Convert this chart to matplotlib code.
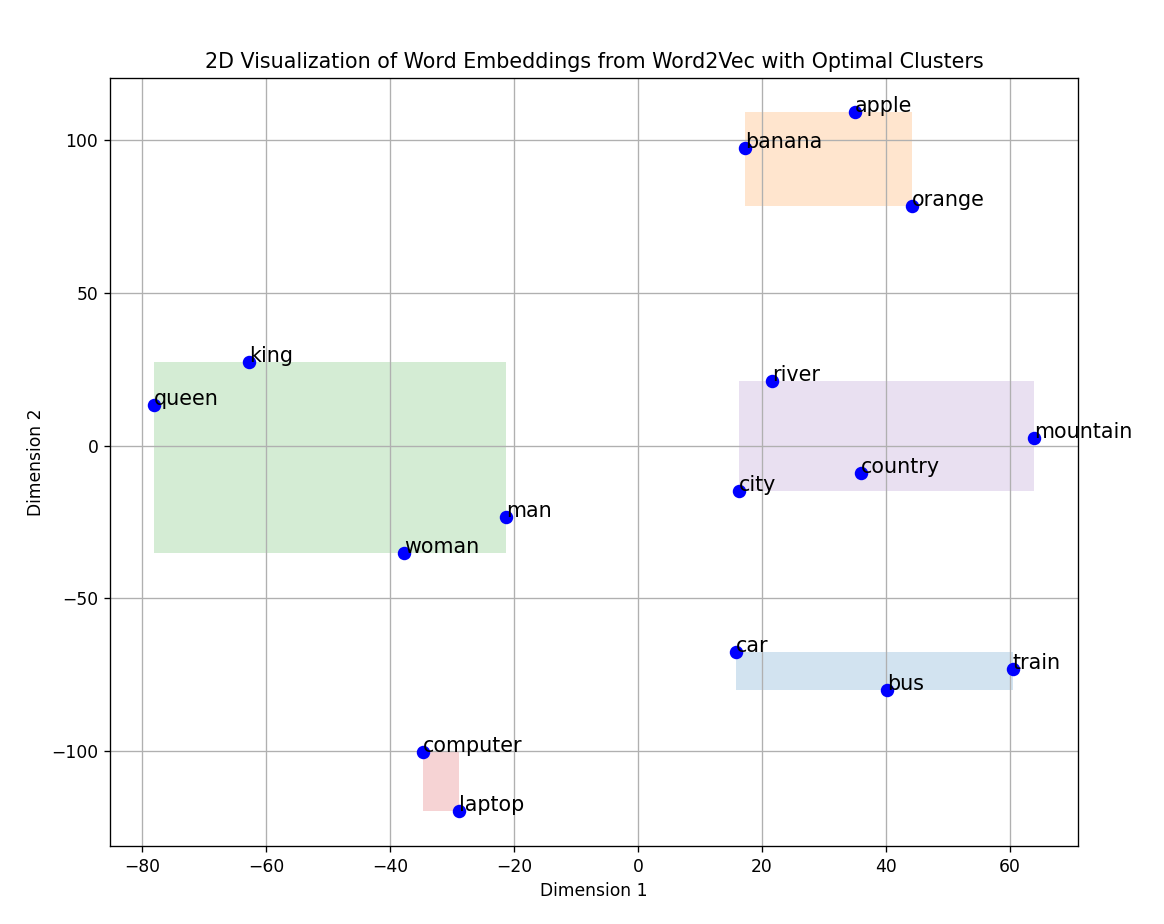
import matplotlib
matplotlib.use("Agg")
import matplotlib.pyplot as plt
import matplotlib.patches as mpatches

words = ["king", "queen", "man", "woman", "apple", "banana", "orange",
         "car", "bus", "train", "computer", "laptop",
         "river", "mountain", "city", "country"]
dim1 = [-62.7, -78.1, -21.3, -37.7, 35.0, 17.3, 44.2,
        15.8, 40.2, 60.5, -34.7, -28.9,
        21.6, 63.9, 16.3, 36.0]
dim2 = [27.3, 13.3, -23.4, -35.2, 109.2, 97.4, 78.4,
        -67.6, -80.0, -73.2, -100.3, -119.6,
        21.1, 2.5, -14.9, -9.0]
clusters = [2, 2, 2, 2, 1, 1, 1,
            0, 0, 0, 3, 3,
            4, 4, 4, 4]
cluster_colors = ["tab:blue", "tab:orange", "tab:green", "tab:red", "tab:purple"]

plt.rcParams["font.size"] = 10.3

fig = plt.figure(figsize=(9.7, 7.7), dpi=120)
ax = fig.add_axes([0.0945, 0.0844, 0.8315, 0.8312])

for c, col in enumerate(cluster_colors):
    xs = [x for x, k in zip(dim1, clusters) if k == c]
    ys = [y for y, k in zip(dim2, clusters) if k == c]
    rect = mpatches.Rectangle((min(xs), min(ys)), max(xs) - min(xs), max(ys) - min(ys),
                              facecolor=col, alpha=0.2, edgecolor="none")
    ax.add_patch(rect)

ax.scatter(dim1, dim2, color="blue", s=50, zorder=3)
for w, x, y in zip(words, dim1, dim2):
    ax.text(x, y, w, fontsize=12.4, zorder=4)

ax.set_xlim(-85.2, 71.0)
ax.set_ylim(-131.1, 120.3)
ax.set_xticks([-80, -60, -40, -20, 0, 20, 40, 60])
ax.set_yticks([-100, -50, 0, 50, 100])
ax.grid(True)
ax.set_title("2D Visualization of Word Embeddings from Word2Vec with Optimal Clusters", fontsize=12.4)
ax.set_xlabel("Dimension 1")
ax.set_ylabel("Dimension 2")

fig.savefig("out.png", dpi=120)
